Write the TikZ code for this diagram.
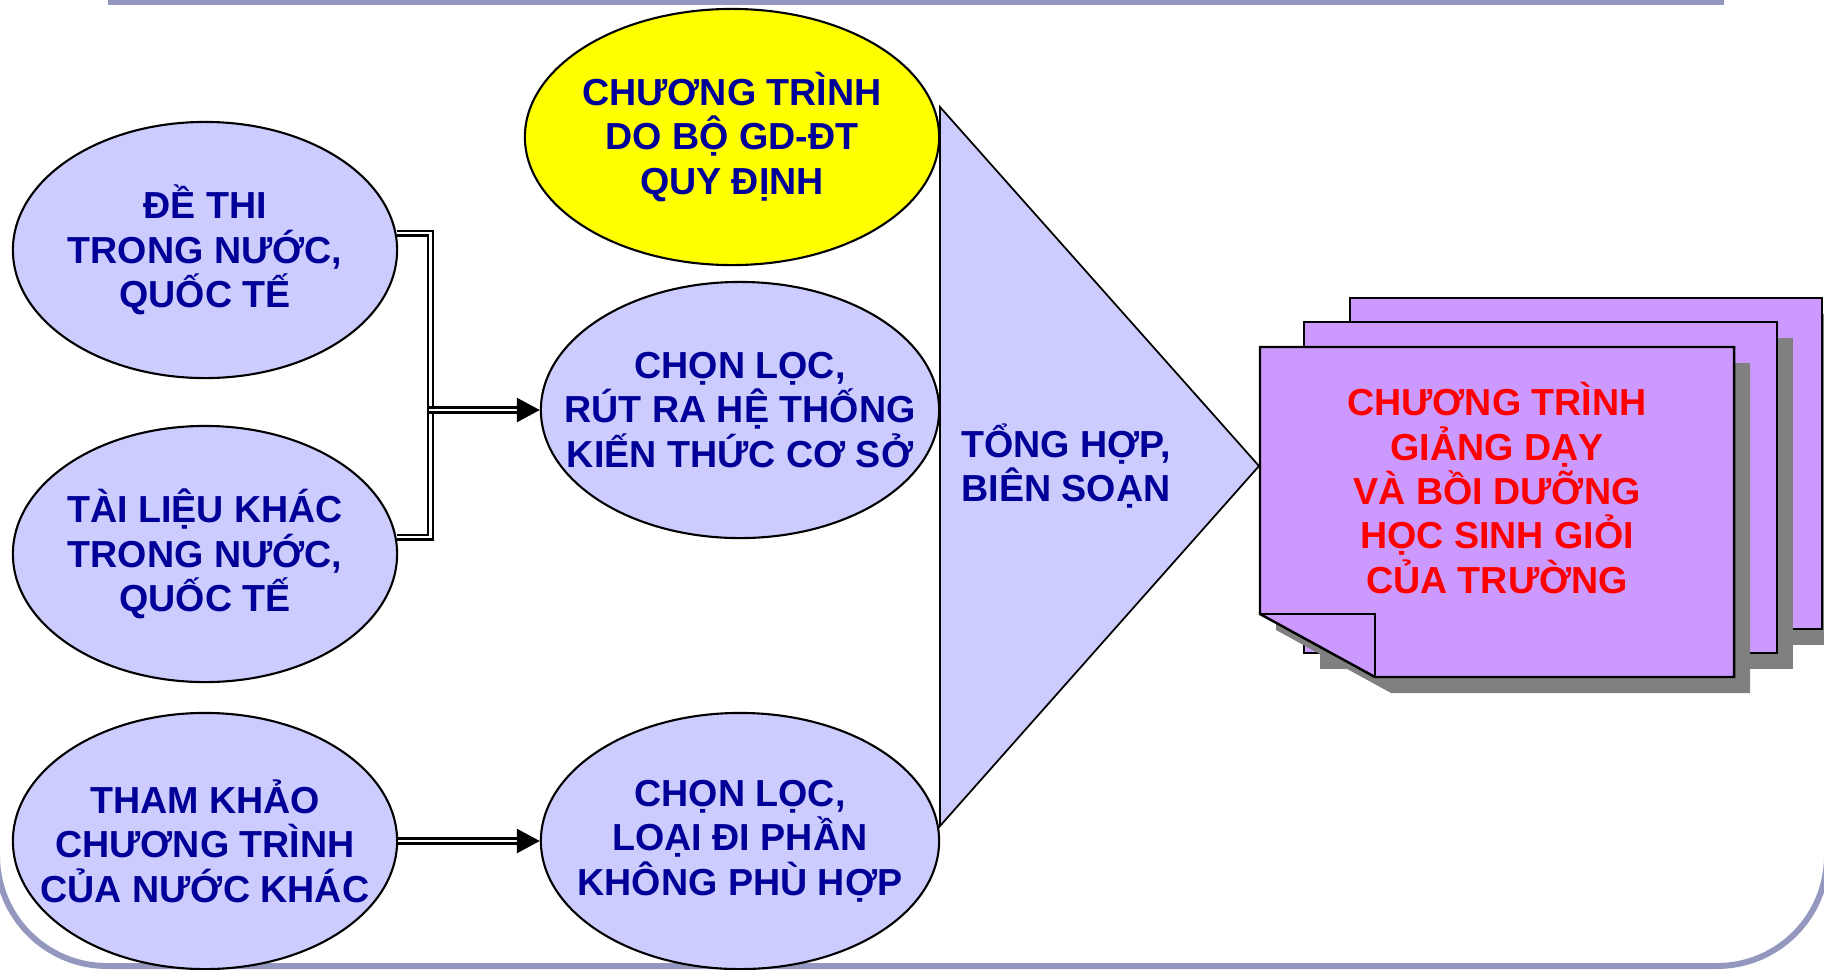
\documentclass[tikz,border=0pt]{standalone}
\usepackage{fontspec}
\setmainfont{Liberation Sans}
\usetikzlibrary{shapes.geometric,arrows.meta}

\definecolor{navy}{RGB}{0,0,153}
\definecolor{lilac}{RGB}{204,204,255}
\definecolor{pagecol}{RGB}{204,153,255}
\definecolor{framecol}{RGB}{148,152,190}
\definecolor{lemon}{RGB}{255,255,0}
\definecolor{redtxt}{RGB}{255,0,0}

\begin{document}
\begin{tikzpicture}[x=0.01cm, y=-0.01cm,
  oval/.style={ellipse, draw, line width=0.6pt, fill=lilac, inner sep=0pt},
  txt/.style={font=\fontsize{10.7}{12.6}\selectfont\bfseries, text=navy, align=center},
  dbl/.style={double, double distance=0.6pt, line width=0.75pt},
  tip/.style={-{Triangle[length=0.23cm,width=0.24cm]}},
  page/.style={draw, line width=0.7pt, fill=pagecol}]

\useasboundingbox (0,0) rectangle (1824,969);

% frame
\fill[framecol] (108,0) rectangle (1724,5);
\draw[framecol, line width=1.7pt, rounded corners=1.1cm] (-3,400) -- (-3,966) -- (1827,966) -- (1827,400);

% sources
\node[oval, minimum width=3.84cm, minimum height=2.56cm] (dethi) at (205,250) {};
\node[txt] (dethiT) at (dethi) {ĐỀ THI\\TRONG NƯỚC,\\QUỐC TẾ};
\node[oval, minimum width=3.84cm, minimum height=2.56cm] (tailieu) at (205,554) {};
\node[txt] (tailieuT) at (tailieu) {TÀI LIỆU KHÁC\\TRONG NƯỚC,\\QUỐC TẾ};
\node[oval, minimum width=3.84cm, minimum height=2.56cm] (thamkhao) at (205,841) {};
\node[txt] (thamkhaoT) at (thamkhao) {THAM KHẢO\\CHƯƠNG TRÌNH\\CỦA NƯỚC KHÁC};

% middle column
\node[oval, fill=lemon, minimum width=4.14cm, minimum height=2.56cm] (bogd) at (732,137) {};
\node[txt] (bogdT) at (bogd) {CHƯƠNG TRÌNH\\DO BỘ GD-ĐT\\QUY ĐỊNH};
\node[oval, minimum width=3.98cm, minimum height=2.56cm] (chonloc) at (740,410) {};
\node[txt] (chonlocT) at (chonloc) {CHỌN LỌC,\\RÚT RA HỆ THỐNG\\KIẾN THỨC CƠ SỞ};
\node[oval, minimum width=3.98cm, minimum height=2.56cm] (loaidi) at (740,841) {};
\node[txt] (loaidiT) at (loaidi) {CHỌN LỌC,\\LOẠI ĐI PHẦN\\KHÔNG PHÙ HỢP};

% connectors
\draw[dbl] (dethi.5) -- ++(34,0) |- (tailieu.5);
\coordinate (join) at (429,410);
\draw[dbl,tip] (join) -- (chonloc.west);
\draw[dbl,tip] (thamkhao.east) -- (loaidi.west);

% big triangle
\draw[line width=0.5pt, fill=lilac] (940,107) -- (1259,466) -- (940,826) -- cycle;
\node[txt] (tonghop) at (1066,466) {TỔNG HỢP,\\BIÊN SOẠN};

% stack of pages
\fill[gray] (1366,314) rectangle (1838,645);
\draw[page] (1350,298) rectangle (1822,629);
\fill[gray] (1320,338) rectangle (1793,669);
\draw[page] (1304,322) rectangle (1777,653);
\fill[gray] (1276,363) -- (1750,363) -- (1750,693) -- (1391,693) -- (1276,630) -- cycle;
\draw[page] (1260,347) -- (1734,347) -- (1734,677) -- (1375,677) -- (1260,614) -- cycle;
\draw[line width=0.7pt] (1260,614) -- (1375,614) -- (1375,677);
\node[txt, text=redtxt] (result) at (1497,488) {CHƯƠNG TRÌNH\\GIẢNG DẠY\\VÀ BỒI DƯỠNG\\HỌC SINH GIỎI\\CỦA TRƯỜNG};

\end{tikzpicture}
\end{document}
